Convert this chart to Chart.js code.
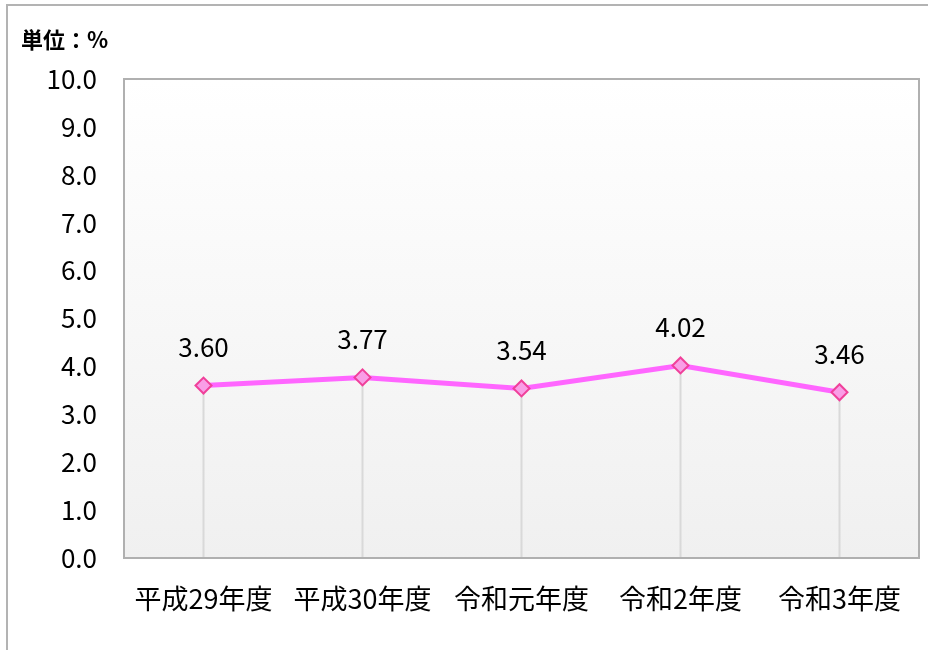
<!DOCTYPE html>
<html lang="ja">
<head>
<meta charset="UTF-8">
<title>単位：%</title>
<script src="https://cdn.jsdelivr.net/npm/chart.js"></script>
<style>
    html, body { margin: 0; padding: 0; background: #ffffff; }
    #wrap { position: relative; width: 933px; height: 650px; }
</style>
</head>
<body>
<div id="wrap"><canvas id="rateChart" width="933" height="650"></canvas></div>
<script>
    const years = ['平成29年度', '平成30年度', '令和元年度', '令和2年度', '令和3年度'];
    const rates = [3.60, 3.77, 3.54, 4.02, 3.46];
    const yTicks = [0, 1, 2, 3, 4, 5, 6, 7, 8, 9, 10];

    const FONT = '"Noto Sans CJK JP", "Noto Sans", sans-serif';

    // outer frame, unit label and plot background
    const backdrop = {
        id: 'backdrop',
        beforeDraw(chart) {
            const { ctx, chartArea: a } = chart;
            ctx.save();
            ctx.strokeStyle = '#b3b3b3';
            ctx.lineWidth = 2;
            ctx.beginPath();
            ctx.moveTo(7, 650);
            ctx.lineTo(7, 5);
            ctx.lineTo(928, 5);
            ctx.stroke();

            const g = ctx.createLinearGradient(0, a.top, 0, a.bottom);
            g.addColorStop(0, '#ffffff');
            g.addColorStop(1, '#f0f0f0');
            ctx.fillStyle = g;
            ctx.fillRect(a.left, a.top, a.right - a.left, a.bottom - a.top);

            ctx.fillStyle = '#000';
            ctx.font = 'bold 22px ' + FONT;
            ctx.textBaseline = 'middle';
            ctx.fillText('単位：%', 21, 40);
            ctx.restore();
        },
        beforeDatasetsDraw(chart) {
            // drop lines from each point to the axis
            const { ctx, chartArea: a } = chart;
            const meta = chart.getDatasetMeta(0);
            ctx.save();
            ctx.strokeStyle = '#d9d9d9';
            ctx.lineWidth = 2;
            meta.data.forEach(pt => {
                ctx.beginPath();
                ctx.moveTo(pt.x, pt.y);
                ctx.lineTo(pt.x, a.bottom);
                ctx.stroke();
            });
            // plot border
            ctx.strokeStyle = '#b0b0b0';
            ctx.lineWidth = 2;
            ctx.strokeRect(a.left, a.top, a.right - a.left, a.bottom - a.top);
            ctx.restore();
        },
        afterDatasetsDraw(chart) {
            const { ctx } = chart;
            const meta = chart.getDatasetMeta(0);
            ctx.save();
            ctx.fillStyle = '#000';
            ctx.font = '26px ' + FONT;
            ctx.textAlign = 'center';
            ctx.textBaseline = 'middle';
            meta.data.forEach((pt, i) => {
                ctx.fillText(rates[i].toFixed(2), pt.x, pt.y - 38);
            });
            ctx.restore();
        }
    };

    new Chart(document.getElementById('rateChart'), {
        type: 'line',
        data: {
            labels: years,
            datasets: [{
                data: rates,
                borderColor: '#ff66ff',
                borderWidth: 5,
                pointStyle: 'rectRot',
                pointRadius: 8,
                pointBackgroundColor: '#f99ee6',
                pointBorderColor: '#f0409a',
                pointBorderWidth: 2,
                tension: 0
            }]
        },
        options: {
            responsive: false,
            animation: false,
            events: [],
            layout: { padding: { left: 0, top: 79, right: 14, bottom: 0 } },
            plugins: { legend: { display: false }, tooltip: { enabled: false } },
            scales: {
                x: {
                    offset: true,
                    grid: { display: false, drawTicks: false },
                    border: { display: false },
                    ticks: { color: '#000', font: { size: 27, family: FONT }, padding: 25, maxRotation: 0, autoSkip: false },
                    afterFit(s) { s.height = 92; }
                },
                y: {
                    min: 0,
                    max: 10,
                    grid: { display: false, drawTicks: false },
                    border: { display: false },
                    afterBuildTicks(s) { s.ticks = yTicks.map(v => ({ value: v })); },
                    ticks: {
                        color: '#000',
                        font: { size: 26, family: FONT },
                        padding: 27,
                        callback: v => v.toFixed(1)
                    },
                    afterFit(s) { s.width = 124; }
                }
            }
        },
        plugins: [backdrop]
    });
</script>
</body>
</html>
